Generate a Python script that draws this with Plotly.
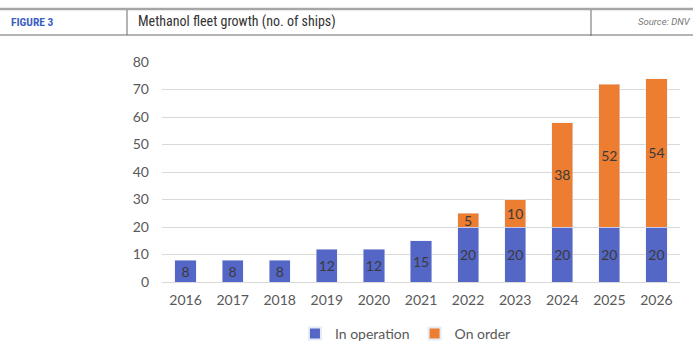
import plotly.graph_objects as go

years = ["2016", "2017", "2018", "2019", "2020", "2021", "2022", "2023", "2024", "2025", "2026"]
in_operation = [8, 8, 8, 12, 12, 15, 20, 20, 20, 20, 20]
on_order = [None, None, None, None, None, None, 5, 10, 38, 52, 54]

BLUE = "#5567c6"
ORANGE = "#ed7d31"
FONT = "Lato, 'Open Sans', sans-serif"
HFONT = "'Liberation Sans Narrow', 'Roboto Condensed', Roboto, sans-serif"

W, H = 700, 357
L, R, T, B = 162, 20, 62, 75
pw, ph = W - L - R, H - T - B

def px(x):
    return (x - L) / pw

def py(y):
    return (H - B - y) / ph

fig = go.Figure()
for name, vals, col in [("In operation", in_operation, BLUE), ("On order", on_order, ORANGE)]:
    fig.add_trace(go.Bar(
        x=years, y=vals, name=name, marker_color=col,
        text=vals, textposition="inside", insidetextanchor="middle", textangle=0,
        textfont=dict(color="#3a3a3a", size=14, family=FONT), constraintext="none",
    ))

shapes = [
    dict(type="line", xref="paper", yref="paper", x0=px(0), x1=px(693), y0=py(9), y1=py(9),
         line=dict(color="#a6a6a6", width=2.5)),
    dict(type="line", xref="paper", yref="paper", x0=px(0), x1=px(693), y0=py(35), y1=py(35),
         line=dict(color="#6b6b6b", width=1)),
    dict(type="line", xref="paper", yref="paper", x0=px(127), x1=px(127), y0=py(10), y1=py(35),
         line=dict(color="#6b6b6b", width=1)),
    dict(type="line", xref="paper", yref="paper", x0=px(591), x1=px(591), y0=py(10), y1=py(36),
         line=dict(color="#6b6b6b", width=1)),
]

annotations = [
    dict(text="<b>FIGURE 3</b>", xref="paper", yref="paper", x=px(9), y=py(22), xanchor="left",
         yanchor="middle", showarrow=False, font=dict(family=HFONT, size=11.5, color="#3d5fc4")),
    dict(text="Methanol fleet growth (no. of ships)", xref="paper", yref="paper", x=px(136), y=py(22),
         xanchor="left", yanchor="middle", showarrow=False,
         font=dict(family=HFONT, size=14, color="#333333")),
    dict(text="<i>Source: DNV</i>", xref="paper", yref="paper", x=px(693), y=py(22), xanchor="right",
         yanchor="middle", showarrow=False, font=dict(family="Roboto, sans-serif", size=9.5, color="#777777")),
]

fig.update_layout(
    width=W, height=H,
    margin=dict(l=L, r=R, t=T, b=B, autoexpand=False),
    barmode="stack", bargap=0.55,
    plot_bgcolor="white", paper_bgcolor="white",
    font=dict(family=FONT, color="#595959", size=14),
    shapes=shapes, annotations=annotations,
    showlegend=True,
    legend=dict(orientation="h", x=0.47, xanchor="center", y=py(334), yanchor="middle",
                font=dict(size=14, color="#595959"), itemwidth=30, itemsizing="constant",
                traceorder="normal"),
    xaxis=dict(showgrid=False, ticks="", showline=False, tickfont=dict(size=14),
               automargin=False, ticklabelstandoff=8),
    yaxis=dict(range=[0, 80], dtick=10, showgrid=True, gridcolor="#d9d9d9", gridwidth=1,
               zeroline=True, zerolinecolor="#d9d9d9", zerolinewidth=1, ticks="",
               tickfont=dict(size=14), ticklabelstandoff=12, automargin=False),
)

fig.write_html("out.html", post_script="document.body.style.margin='0px';",
               config={"displayModeBar": False})
